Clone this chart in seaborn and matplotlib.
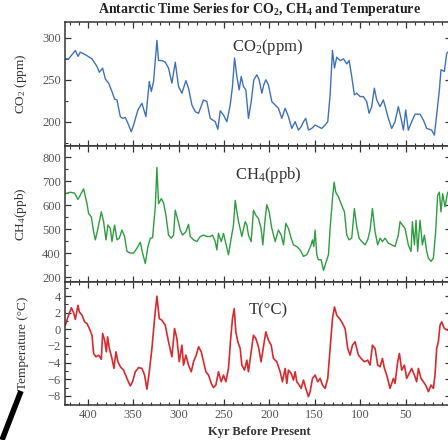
import numpy as np
import pandas as pd
import matplotlib
matplotlib.use("Agg")
import matplotlib.pyplot as plt
from matplotlib.ticker import MultipleLocator, AutoMinorLocator
from matplotlib.lines import Line2D
import seaborn as sns

# Vostok-style series (kyr before present)
co2_age = [424.6, 421.0, 413.6, 410.7, 408.1, 402.6, 395.3, 389.8, 387.2, 383.6, 380.6, 377.0,
           373.3, 370.4, 367.8, 364.1, 361.6, 358.6, 355.7, 352.0, 349.5, 344.7, 340.3, 335.9,
           332.2, 330.0, 327.5, 323.8, 322.0, 318.3, 314.6, 311.0, 307.3, 303.6, 300.0, 296.3,
           291.9, 289.0, 285.3, 281.6, 278.0, 272.5, 268.8, 265.1, 259.6, 256.7, 254.1, 250.5,
           246.8, 243.1, 240.6, 238.3, 235.8, 233.2, 231.0, 228.5, 225.9, 223.0, 220.0, 217.1,
           213.8, 211.2, 208.3, 206.1, 203.9, 201.0, 197.3, 193.6, 190.0, 186.3, 182.6, 179.0,
           175.3, 171.6, 168.0, 165.0, 162.4, 159.9, 157.0, 153.3, 149.6, 146.0, 142.3, 138.6,
           135.7, 133.1, 130.5, 128.3, 125.8, 122.1, 118.4, 114.8, 112.2, 109.3, 106.4, 103.8,
           100.1, 96.5, 92.8, 90.2, 87.3, 84.4, 81.8, 78.1, 74.5, 71.9, 69.0, 65.3, 61.6, 58.0,
           55.0, 52.4, 49.9, 47.0, 43.3, 39.6, 34.1, 30.4, 26.8, 21.3, 18.3, 15.8, 12.8, 11.0,
           7.3, 4.8, 3.7]
co2_ppm = [275, 275, 285, 278, 283, 280, 275, 266, 259, 264, 251, 246,
           236, 227, 226, 206, 204, 205, 198, 188, 196, 214, 222, 206,
           248, 236, 248, 297, 273, 273, 271, 264, 246, 271, 242, 234,
           249, 240, 220, 212, 210, 226, 224, 204, 200, 191, 213, 208,
           200, 220, 242, 276, 254, 238, 254, 242, 238, 204, 224, 250,
           256, 250, 234, 244, 250, 244, 224, 220, 216, 204, 216, 206,
           192, 200, 190, 194, 200, 204, 190, 192, 196, 194, 192, 196,
           200, 232, 285, 264, 277, 273, 275, 269, 273, 254, 232, 234,
           230, 230, 224, 210, 218, 240, 226, 218, 226, 216, 204, 192, 200, 218,
           204, 190, 214, 190, 200, 209, 209, 202, 192, 190, 184, 208, 238, 262,
           260, 281, 283]

ch4_age = [424.6, 419.1, 414.4, 410.7, 408.1, 404.5, 400.8, 399.0, 396.0, 393.5, 391.6, 388.7,
           385.0, 382.5, 379.9, 377.7, 375.1, 373.3, 370.4, 367.8, 365.2, 362.3, 359.4, 356.8,
           353.1, 349.5, 345.8, 342.1, 339.6, 336.6, 333.7, 331.1, 328.6, 325.6, 323.8, 322.0,
           319.0, 316.5, 313.9, 311.0, 308.0, 305.5, 303.6, 300.7, 298.1, 295.6, 291.9, 289.0,
           287.1, 283.5, 279.8, 276.1, 272.5, 268.8, 265.1, 262.6, 259.6, 257.8, 256.0, 253.0,
           250.5, 247.5, 245.0, 242.0, 239.5, 237.6, 235.8, 233.9, 230.3, 226.6, 224.8, 223.0,
           220.0, 217.5, 214.9, 212.0, 209.1, 207.2, 204.6, 202.8, 200.2, 197.3, 193.6, 190.0,
           187.0, 184.4, 181.9, 179.0, 176.0, 173.4, 169.8, 166.1, 162.4, 158.8, 157.0, 154.0,
           152.5, 151.1, 149.6, 147.8, 146.0, 143.0, 140.4, 137.9, 134.9, 133.1, 130.5, 128.7,
           126.9, 123.9, 120.3, 117.3, 114.8, 112.2, 109.3, 106.4, 103.8, 101.2, 98.3, 94.6,
           91.7, 89.1, 86.5, 83.6, 80.7, 78.1, 75.5, 72.6, 69.0, 65.3, 61.6, 58.0, 56.1, 53.5,
           50.6, 47.0, 44.0, 42.5, 40.3, 38.5, 36.7, 34.1, 31.5, 29.3, 26.8, 24.9, 22.0, 19.4,
           16.9, 14.7, 12.8, 11.0, 9.2, 6.6, 3.7]
ch4_ppb = [649, 655, 651, 625, 644, 669, 607, 566, 552, 490, 456, 504,
           573, 532, 456, 518, 504, 449, 518, 456, 463, 497, 470, 408,
           401, 401, 421, 446, 401, 357, 428, 463, 465, 594, 759, 607,
           628, 611, 559, 476, 463, 476, 580, 538, 497, 476, 490, 521,
           470, 456, 449, 470, 476, 470, 470, 476, 449, 414, 483, 449,
           483, 435, 394, 463, 518, 621, 573, 532, 470, 532, 518, 476,
           449, 580, 559, 545, 504, 435, 545, 603, 573, 504, 449, 497,
           476, 435, 525, 504, 463, 435, 428, 414, 387, 394, 408, 435,
           456, 428, 497, 394, 373, 373, 328, 359, 394, 504, 628, 697,
           655, 635, 600, 573, 476, 456, 463, 587, 511, 463, 449, 435,
           456, 497, 587, 490, 435, 463, 449, 463, 442, 435, 428, 476, 532, 518,
           504, 435, 408, 532, 435, 538, 408, 538, 435, 476, 408, 380, 366, 380,
           490, 642, 655, 573, 649, 594, 655]

temp_age = [424.6, 421.7, 418.0, 415.5, 413.6, 410.7, 409.2, 406.3, 403.4, 400.8, 398.2, 395.3,
            393.5, 390.9, 388.0, 385.0, 383.6, 381.4, 379.5, 378.1, 376.2, 373.3, 371.1, 368.9,
            366.7, 364.1, 360.5, 356.8, 353.1, 350.6, 347.6, 344.0, 340.3, 337.4, 334.8, 332.2,
            329.3, 326.4, 323.8, 321.2, 318.3, 314.6, 311.0, 307.3, 304.4, 301.8, 299.2, 296.3,
            294.5, 291.9, 289.0, 286.0, 283.5, 280.5, 277.9, 275.0, 272.5, 269.9, 266.9, 264.0,
            261.5, 258.9, 256.0, 253.0, 250.5, 247.9, 245.0, 242.7, 240.6, 238.7, 236.9, 234.7,
            232.1, 230.3, 227.4, 224.8, 223.0, 220.0, 217.5, 214.9, 212.0, 209.1, 206.8, 203.9,
            201.0, 198.0, 195.5, 191.8, 188.1, 185.6, 182.6, 180.8, 179.0, 176.0, 173.4, 171.6,
            169.8, 167.2, 165.0, 162.4, 159.9, 157.0, 155.1, 152.5, 149.6, 146.7, 144.1, 141.5,
            138.6, 135.7, 133.1, 130.5, 128.3, 125.8, 122.8, 120.3, 116.6, 113.7, 111.1, 108.5,
            105.6, 101.9, 99.0, 95.3, 91.7, 89.1, 86.5, 83.6, 80.7, 78.1, 75.5, 73.3, 70.8, 67.1,
            63.4, 61.6, 58.7, 56.8, 54.3, 51.3, 48.8, 45.1, 43.3, 40.3, 37.8, 35.9, 33.0, 30.4,
            27.9, 24.9, 22.0, 19.4, 17.6, 15.8, 13.9, 12.1, 10.3, 7.3, 3.7]
temp_c = [0.5, 1.5, 2.6, 2.0, 1.2, 2.9, 2.1, 1.7, 0.9, 0.7, 0.1, -0.7,
          -2.9, -3.3, -3.1, -3.6, -0.5, -1.3, -2.7, -0.9, -2.3, -3.5, -4.7, -2.7,
          -3.9, -4.5, -4.9, -5.9, -6.8, -6.3, -5.1, -4.6, -4.7, -5.5, -7.2, -5.1,
          -2.3, 1.3, 4.0, 1.3, 1.1, 0.5, -1.5, -3.3, 0.1, -1.1, -3.9, -1.9,
          -4.3, -3.1, -4.3, -5.1, -3.9, -3.1, -2.1, -2.7, -3.9, -5.1, -5.5, -6.5,
          -7.0, -6.7, -5.1, -6.3, -5.5, -6.3, -4.7, -1.3, 1.3, 2.5, -0.3, -1.5,
          -2.3, -4.3, -4.9, -3.7, -5.1, -2.7, -0.7, -1.1, -2.1, -3.9, -2.3, -0.3,
          -1.3, -1.9, -3.5, -3.9, -5.1, -6.3, -4.7, -6.5, -4.9, -5.3, -6.1, -5.1,
          -6.3, -6.7, -7.1, -6.1, -7.1, -8.1, -7.5, -5.9, -5.5, -6.3, -5.9, -6.7,
          -7.1, -5.9, -2.3, 1.3, 2.7, 1.7, 1.3, 0.9, 0.1, -2.3, -3.1, -1.9,
          -1.5, -3.1, -3.5, -3.9, -3.7, -4.3, -1.9, -2.3, -4.3, -4.5, -3.5, -4.7, -5.5, -7.1,
          -5.9, -6.5, -3.9, -2.9, -4.9, -4.3, -5.9, -5.1, -4.7, -5.5, -6.3, -4.7, -5.9, -6.3,
          -6.7, -7.5, -6.7, -7.1, -5.5, -2.3, -1.5, 0.5, 0.9, 0.1, -0.1]

ch4_ticks = [300, 400, 500, 600, 700, 800]
ch4_ticklabels = ["200", "400", "500", "600", "700", "800"]
x_ticks = [400, 350, 300, 250, 200, 150, 100, 50]

sns.set_theme(style="ticks")
plt.rcParams["font.family"] = ["Liberation Serif", "DejaVu Serif"]
plt.rcParams["mathtext.fontset"] = "custom"
plt.rcParams["mathtext.rm"] = "Liberation Serif"
plt.rcParams["mathtext.it"] = "Liberation Serif:italic"
plt.rcParams["mathtext.bf"] = "Liberation Serif:bold"

fig = plt.figure(figsize=(4.48, 4.40), dpi=100)
L, W = 65 / 448, 386 / 448
ax1 = fig.add_axes([L, 1 - 146 / 440, W, 124 / 440])
ax2 = fig.add_axes([L, 1 - 282 / 440, W, 136 / 440], sharex=ax1)
ax3 = fig.add_axes([L, 1 - 405 / 440, W, 123 / 440], sharex=ax1)

panels = [
    (ax1, pd.DataFrame({"age": co2_age, "val": co2_ppm}), "#3f71b8", 1.0),
    (ax2, pd.DataFrame({"age": ch4_age, "val": ch4_ppb}), "#2e9c40", 1.0),
    (ax3, pd.DataFrame({"age": temp_age, "val": temp_c}), "#d62a2e", 1.2),
]
for ax, df, col, lw in panels:
    sns.lineplot(data=df, x="age", y="val", ax=ax, color=col, linewidth=lw, estimator=None)
    ax.set_xlabel("")
    for s in ax.spines.values():
        s.set_color("#333333")
        s.set_linewidth(1.1)
    ax.tick_params(which="both", direction="in", top=True, right=True,
                   labelsize=9, colors="#333333", labelcolor="#555555", pad=3)
    ax.tick_params(which="major", length=4, width=0.9)
    ax.tick_params(which="minor", length=2, width=0.8)
    ax.yaxis.set_minor_locator(AutoMinorLocator(2))

ax1.set_xlim(425, 0)
ax1.xaxis.set_major_locator(MultipleLocator(50))
ax1.xaxis.set_minor_locator(MultipleLocator(10))
ax3.set_xticks(x_ticks)
for ax in (ax1, ax2):
    ax.tick_params(labelbottom=False)

ax1.set_ylim(171, 319)
ax1.set_yticks([200, 250, 300])
ax2.set_ylim(280, 848)
ax2.set_yticks(ch4_ticks)
ax2.set_yticklabels(ch4_ticklabels)
ax3.set_ylim(-9.1, 5.7)
ax3.set_yticks([4, 2, 0, -2, -4, -6, -8])

ax1.set_ylabel("CO$_2$ (ppm)", fontsize=9.5, color="#333333")
ax2.set_ylabel("CH$_4$(ppb)", fontsize=9.5, color="#333333")
ax3.set_ylabel("Temperature (°C)", fontsize=9.5, color="#333333")
for ax in (ax1, ax2, ax3):
    ax.yaxis.set_label_coords(-0.093, 0.5)

ax1.text(0.526, 0.80, "CO$_2$(ppm)", transform=ax1.transAxes, ha="center", va="center",
         fontsize=12, color="#333333")
ax2.text(0.526, 0.787, "CH$_4$(ppb)", transform=ax2.transAxes, ha="center", va="center",
         fontsize=12, color="#333333")
ax3.text(0.526, 0.772, "T(°C)", transform=ax3.transAxes, ha="center", va="center",
         fontsize=12, color="#333333")

fig.text(259 / 448, 1 - 10 / 440, r"Antarctic Time Series for CO$_\mathbf{2}$, CH$_\mathbf{4}$ and Temperature",
         ha="center", va="center", fontsize=10, fontweight="bold", color="#222222")
fig.text(259 / 448, 1 - 432 / 440, "Kyr Before Present", ha="center", va="center",
         fontsize=9, fontweight="bold", color="#333333")

# dark pen stroke in the lower-left corner of the scan
fig.add_artist(Line2D([2 / 448, 21 / 448], [0.0, 1 - 391 / 440], transform=fig.transFigure,
                      color="black", linewidth=4, solid_capstyle="butt"))

fig.savefig("out.png", dpi=100)
